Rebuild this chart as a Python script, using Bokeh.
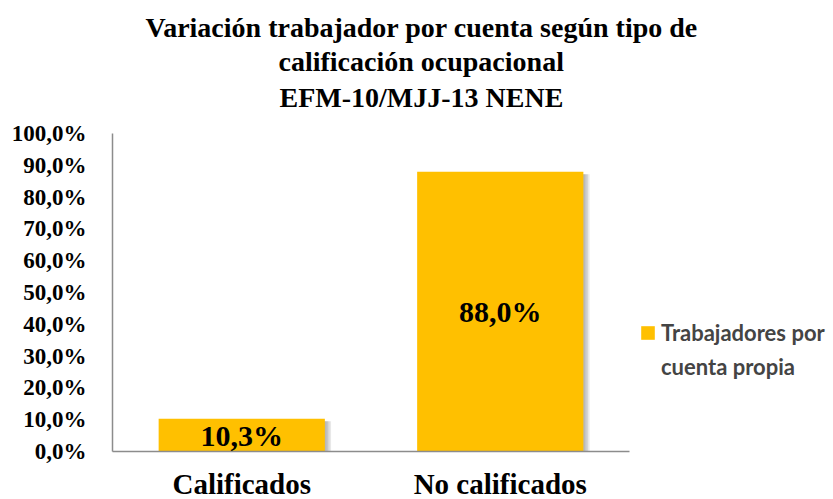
from bokeh.plotting import figure
from bokeh.models import (ColumnDataSource, Title, Legend, LegendItem, CustomJSTickFormatter,
                          SingleIntervalTicker, Range1d, LabelSet)
from bokeh.transform import dodge
from bokeh.core.properties import value
from bokeh.embed import file_html
from bokeh.resources import INLINE

categories = ["Calificados", "No calificados"]
values = [10.3, 88.0]
series_name = ["Trabajadores por", "cuenta propia"]
title_lines = ["Variación trabajador por cuenta según tipo de",
               "calificación ocupacional",
               "EFM-10/MJJ-13 NENE"]

labels = [f"{v:.1f}".replace(".", ",") + "%" for v in values]
mids = [v / 2 for v in values]
source = ColumnDataSource(dict(cat=categories, val=values, lab=labels, mid=mids))

W, H = 833, 499
FL, FT, FW, FH = 112, 133, 517, 318
p = figure(x_range=categories, y_range=Range1d(0, 100), width=W, height=H,
           frame_width=FW, frame_height=FH,
           output_backend="svg", toolbar_location=None,
           min_border_left=FL, min_border_right=W - FL - FW, min_border_top=FT,
           min_border_bottom=H - FT - FH)
p.title.visible = False
p.outline_line_color = None
p.xgrid.grid_line_color = None
p.ygrid.grid_line_color = None
p.background_fill_color = "white"

SERIF = "Liberation Serif"

# shadow layers
for off in [0.006, 0.012, 0.018, 0.024]:
    p.vbar(x=dodge("cat", off, range=p.x_range), top=dodge("val", -0.8), bottom=0,
           width=0.643, source=source, fill_color="#808080", fill_alpha=0.18, line_color=None)

bars = p.vbar(x="cat", top="val", width=0.643, source=source, fill_color="#FFC000", line_color=None)
# invisible twin used only to carry the second line of the legend text
twin = p.vbar(x="cat", top="val", width=0.643, source=source, fill_alpha=0, line_alpha=0)

ls = LabelSet(x="cat", y="mid", text="lab", source=source, text_align="center",
              text_baseline="middle", text_font=value(SERIF), text_font_style="bold",
              text_font_size="30px", text_color="black")
p.add_layout(ls)

# axes
p.yaxis.ticker = SingleIntervalTicker(interval=10)
p.yaxis.formatter = CustomJSTickFormatter(code="return tick.toFixed(1).replace('.', ',') + '%';")
p.yaxis.major_label_text_font = SERIF
p.yaxis.major_label_text_font_style = "bold"
p.yaxis.major_label_text_font_size = "23px"
p.yaxis.major_label_text_color = "black"
p.yaxis.major_label_standoff = 20
p.yaxis.major_tick_line_color = None
p.yaxis.minor_tick_line_color = None
p.yaxis.axis_line_color = "#8c8c8c"
p.yaxis.axis_line_width = 1.5

p.xaxis.major_label_text_font = SERIF
p.xaxis.major_label_text_font_style = "bold"
p.xaxis.major_label_text_font_size = "29px"
p.xaxis.major_label_text_color = "black"
p.xaxis.major_label_standoff = 10
p.xaxis.major_tick_line_color = None
p.xaxis.axis_line_color = "#8c8c8c"
p.xaxis.axis_line_width = 1.5

# legend
legend = Legend(items=[LegendItem(label=series_name[0], renderers=[bars]),
                       LegendItem(label=series_name[1], renderers=[twin])],
                location=(10, 71), border_line_color=None, background_fill_alpha=0,
                padding=0, margin=0, glyph_width=17, glyph_height=17, spacing=7,
                label_text_font="Lato", label_text_font_style="bold",
                label_text_font_size="22px", label_standoff=5)
p.add_layout(legend, "right")

# blank spacer between the plot and the title block
p.add_layout(Title(text=" ", text_font_size="16px", standoff=0), "above")

# title lines, added from the one nearest the plot outward
offsets = [167, 166, 33]
standoffs = [4, 2, 0]
for t, off, so in zip(reversed(title_lines), offsets, standoffs):
    p.add_layout(Title(text=t, align="left", offset=off, text_font=SERIF, text_font_style="bold",
                       text_font_size="28px", text_color="black", standoff=so), "above")

open("out.html", "w").write(file_html(p, INLINE))
